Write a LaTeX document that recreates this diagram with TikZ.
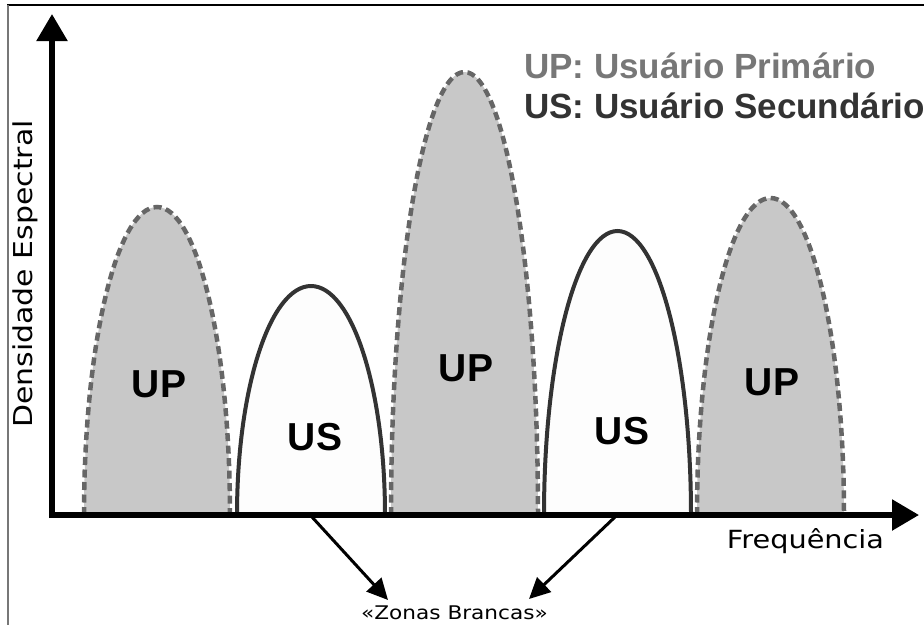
\documentclass[tikz,border=0pt]{standalone}
\usepackage{fontspec}
\setmainfont{Liberation Sans}
\newfontfamily\labelfont[FakeStretch=1.15]{DejaVu Sans}
\usetikzlibrary{arrows.meta}
\definecolor{upfill}{HTML}{C8C8C8}
\definecolor{upline}{HTML}{666666}
\definecolor{usline}{HTML}{333333}
\definecolor{usfill}{HTML}{FDFDFD}
\definecolor{legendup}{HTML}{777777}
\definecolor{legendus}{HTML}{333333}
\definecolor{frameside}{HTML}{777777}
\tikzset{
  upband/.style={fill=upfill, draw=upline, line width=4.5pt, dash pattern=on 8pt off 4.5pt},
  usband/.style={fill=usfill, draw=usline, line width=4pt},
  bandtext/.style={font=\bfseries\fontsize{39}{40}\selectfont, inner sep=0pt},
  legendtext/.style={font=\bfseries\fontsize{35}{40}\selectfont, inner sep=0pt, anchor=base west},
  axisline/.style={line width=5.5pt, -{Triangle[length=27pt,width=30pt]}},
  pointer/.style={line width=3pt, -{Triangle[length=21pt,width=20pt]}},
}
\begin{document}
\begin{tikzpicture}[x=1pt,y=-1pt]
\useasboundingbox (0,0) rectangle (924,625);

% frame
\draw[line width=1.4pt] (7,5) -- (924,5);
\draw[frameside, line width=2pt] (7.8,5) -- (7.8,625);

% spectral bands (half ellipses on the frequency axis)
\filldraw[upband] (84,515) arc[start angle=180, end angle=0, x radius=73pt, y radius=308pt] -- cycle;
\filldraw[usband] (237,515) arc[start angle=180, end angle=0, x radius=74pt, y radius=229pt] -- cycle;
\filldraw[upband] (391,515) arc[start angle=180, end angle=0, x radius=73.5pt, y radius=443pt] -- cycle;
\filldraw[usband] (544,515) arc[start angle=180, end angle=0, x radius=73.5pt, y radius=284pt] -- cycle;
\filldraw[upband] (697,515) arc[start angle=180, end angle=0, x radius=73.5pt, y radius=317pt] -- cycle;

\node[bandtext] (up1) at (159,384) {UP};
\node[bandtext] (us1) at (315,437) {US};
\node[bandtext] (up2) at (466,368) {UP};
\node[bandtext] (us2) at (622,431) {US};
\node[bandtext] (up3) at (772,382) {UP};

% axes
\coordinate (ybase) at (52,518);
\coordinate (ytip) at (52,14);
\coordinate (xstart) at (49.3,515);
\coordinate (xtip) at (919,515);
\draw[axisline] (ybase) -- (ytip);
\draw[axisline] (xstart) -- (xtip);

\node[font=\labelfont\fontsize{26}{30}\selectfont, rotate=90, inner sep=0pt] (ylabel) at (25,274) {Densidade Espectral};
\node[font=\labelfont\fontsize{25}{28}\selectfont, inner sep=0pt, anchor=base] (xlabel) at (805.5,548.3) {Frequência};

% legend
\node[legendtext, text=legendup] (legup) at (524,78) {UP: Usuário Primário};
\node[legendtext, text=legendus] (legus) at (524,118) {US: Usuário Secundário};

% white spaces
\node[font=\labelfont\fontsize{18.8}{22}\selectfont, inner sep=0pt, anchor=base] (zonas) at (454.5,619) {«Zonas Brancas»};
\coordinate (gap1) at (312,517);
\coordinate (gap2) at (615,517);
\coordinate (tip1) at (388,600);
\coordinate (tip2) at (529,599);
\draw[pointer] (gap1) -- (tip1);
\draw[pointer] (gap2) -- (tip2);
\end{tikzpicture}
\end{document}
